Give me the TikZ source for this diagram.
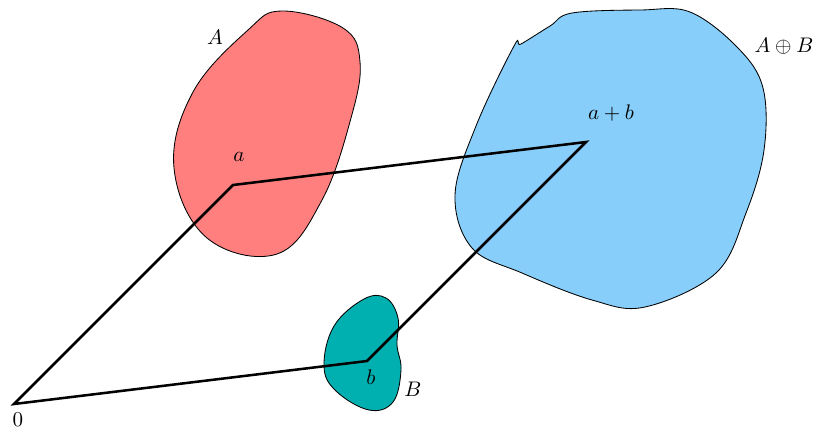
\documentclass[tikz,border=0pt]{standalone}
\usepackage{amsmath}
\definecolor{setA}{HTML}{FF7F7F}
\definecolor{setB}{HTML}{00B0B0}
\definecolor{setAB}{HTML}{87CEFA}
\begin{document}
\begin{tikzpicture}[x=0.01667cm,y=-0.01667cm,
  blob/.style={draw=black,line width=0.4pt},
  vec/.style={line width=1.2pt,line join=miter}]
\useasboundingbox (0,0) rectangle (817,430);
% the sets
\filldraw[blob,fill=setA] plot[smooth cycle,tension=0.65] coordinates {
  (282,11) (343,28) (360,62) (351,118) (322,200) (277,254)
  (207,238) (174,168) (193,92) (248,30)};
\filldraw[blob,fill=setAB] plot[smooth cycle,tension=0.6] coordinates {
  (572,13) (640,10) (690,12) (738,48) (763,88) (764,150) (746,213)
  (716,273) (645,307) (592,300) (522,273) (472,248) (455,195)
  (476,126) (514,46) (521,44) (550,26)};
\filldraw[blob,fill=setB] plot[smooth cycle,tension=0.65] coordinates {
  (386,298) (398,318) (397,345) (401,370) (393,402) (369,410)
  (336,391) (324,366) (334,326) (364,299)};
% the parallelogram
\coordinate (o) at (14,404);
\coordinate (a) at (233,185);
\coordinate (b) at (367,361);
\coordinate (ab) at (586,142);
\draw[vec] (o) -- (a) -- (ab) -- (b) -- cycle;
% labels
\node (lo) at (18,420) {$0$};
\node (la) at (239,157) {$a$};
\node (lb) at (371,377) {$b$};
\node (lab) at (611,113) {$a+b$};
\node (lA) at (215,37) {$A$};
\node (lB) at (413,389) {$B$};
\node (lAB) at (784,46) {$A\oplus B$};
\end{tikzpicture}
\end{document}
